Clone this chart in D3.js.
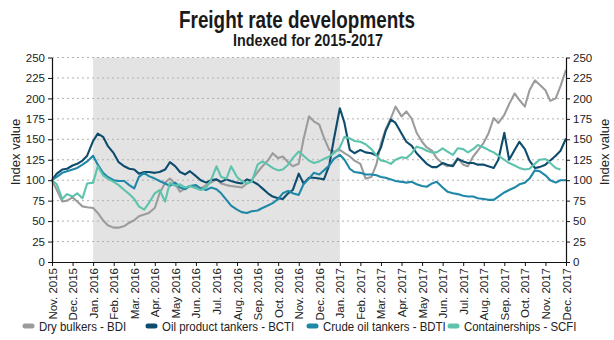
<!DOCTYPE html>
<html><head><meta charset="utf-8">
<script src="https://cdn.jsdelivr.net/npm/d3@7/dist/d3.min.js"></script>
<style>body{margin:0;background:#fff} svg{display:block}</style>
</head><body><svg id="c" width="614" height="340"></svg>
<script>
const monthLabels = ["Nov. 2015","Dec. 2015","Jan. 2016","Feb. 2016","Mar. 2016","Apr. 2016","May 2016","Jun. 2016","Jul. 2016","Aug. 2016","Sep. 2016","Oct. 2016","Nov. 2016","Dec. 2016","Jan. 2017","Feb. 2017","Mar. 2017","Apr. 2017","May 2017","Jun. 2017","Jul. 2017","Aug. 2017","Sep. 2017","Oct. 2017","Nov. 2017","Dec. 2017"];
const yTicks = [0,25,50,75,100,125,150,175,200,225,250];
const dates = [
"2015-11-01","2015-11-08","2015-11-16","2015-11-23","2015-12-01","2015-12-08","2015-12-16","2015-12-23",
"2016-01-01","2016-01-08","2016-01-16","2016-01-23","2016-02-01","2016-02-08","2016-02-16","2016-02-23",
"2016-03-01","2016-03-08","2016-03-16","2016-03-23","2016-04-01","2016-04-08","2016-04-16","2016-04-23",
"2016-05-01","2016-05-08","2016-05-16","2016-05-23","2016-06-01","2016-06-08","2016-06-16","2016-06-23",
"2016-07-01","2016-07-08","2016-07-16","2016-07-23","2016-08-01","2016-08-08","2016-08-16","2016-08-23",
"2016-09-01","2016-09-08","2016-09-16","2016-09-23","2016-10-01","2016-10-08","2016-10-16","2016-10-23",
"2016-11-01","2016-11-08","2016-11-16","2016-11-23","2016-12-01","2016-12-08","2016-12-16","2016-12-23",
"2017-01-01","2017-01-08","2017-01-16","2017-01-23","2017-02-01","2017-02-08","2017-02-16","2017-02-23",
"2017-03-01","2017-03-08","2017-03-16","2017-03-23","2017-04-01","2017-04-08","2017-04-16","2017-04-23",
"2017-05-01","2017-05-08","2017-05-16","2017-05-23","2017-06-01","2017-06-08","2017-06-16","2017-06-23",
"2017-07-01","2017-07-08","2017-07-16","2017-07-23","2017-08-01","2017-08-08","2017-08-16","2017-08-23",
"2017-09-01","2017-09-08","2017-09-16","2017-09-23","2017-10-01","2017-10-08","2017-10-16","2017-10-23",
"2017-11-01","2017-11-08","2017-11-16","2017-11-23","2017-12-01"];
const dryBulkersBDI = [100,88,74,75, 79,74,68,67, 66,60,51,45, 42,42,44,48, 51,56,58,60, 66,84,97,102,
 95,86,90,93, 91,90,94,97, 101,96,94,93, 92,91,96,100, 110,117,124,133, 127,129,122,117,
 120,150,178,172, 168,152,137,135, 137,133,129,124, 120,102,104,120, 145,162,176,190,
 178,184,175,158, 147,140,136,127, 120,117,119,127, 119,117,129,136, 146,157,176,170,
 180,193,206,198, 190,210,222,217, 210,197,200,215, 235];
const oilProductBCTI = [100,108,113,114, 118,120,124,130, 148,157,153,142, 133,122,117,114, 113,108,110,110,
 109,110,113,122, 117,110,107,111, 105,100,97,100, 101,98,101,99, 97,96,101,99, 95,90,84,80,
 78,77,84,88, 108,96,103,103, 102,101,118,150, 188,170,137,133, 137,134,133,130,
 140,160,174,170, 157,147,142,133, 126,120,116,116, 121,119,117,126, 123,121,121,119,
 119,117,115,125, 158,125,137,147, 138,124,115,116, 119,124,130,136, 151];
const crudeBDTI = [100,104,109,111, 113,115,119,123, 130,119,109,104, 100,99,99,94, 90,104,109,105,
 102,99,96,93, 97,91,89,93, 94,90,88,91, 89,84,76,69, 64,61,60,62, 63,66,69,72,
 77,84,87,84, 82,95,102,109, 107,112,118,126, 131,125,114,110, 109,107,107,106,
 104,103,101,99, 98,97,98,95, 93,92,96,98, 91,86,84,83, 81,80,80,78,
 77,76,76,80, 85,88,91,95, 97,102,112,111, 106,100,97,100, 100];
const containershipsSCFI = [100,95,77,83, 80,84,78,96, 97,117,106,102, 98,94,88,83, 77,68,64,72,
 84,88,74,97, 93,95,91,93, 90,88,91,100, 117,104,102,117, 104,99,96,98, 119,123,119,115,
 112,113,119,127, 135,130,124,121, 123,126,129,133, 140,153,151,148, 147,144,138,130,
 124,123,120,125, 128,127,133,141, 139,136,134,134, 139,135,131,139, 138,134,138,143,
 140,137,134,130, 125,121,118,115, 113,114,120,125, 126,121,115,113, null];
const seriesNames = ["Dry bulkers - BDI","Oil product tankers - BCTI","Crude oil tankers - BDTI","Containerships - SCFI"];
const seriesColors = ["#9c9c9c","#0e4c6d","#1f88a8","#5dc3ad"];
const seriesValues = [dryBulkersBDI, oilProductBCTI, crudeBDTI, containershipsSCFI];
const shadeRange = ["Jan. 2016","Jan. 2017"];

const FONT = "'Liberation Sans',Arial,sans-serif";
const svg = d3.select("#c");
const L = 52, R = 566, T = 57.5, B = 262;

function monthIndex(s){
  const d = d3.utcParse("%Y-%m-%d")(s);
  const start = d3.utcMonth.floor(d), next = d3.utcMonth.offset(start,1);
  const idx = (d.getUTCFullYear()-2015)*12 + d.getUTCMonth() - 10;
  return idx + (d - start)/(next - start);
}
const xs = dates.map(monthIndex);

const x = d3.scaleLinear().domain([0, monthLabels.length-1]).range([L, R]);
const y = d3.scaleLinear().domain([0, 250]).range([B, T]);

svg.append("rect")
  .attr("x", x(monthLabels.indexOf(shadeRange[0])))
  .attr("width", x(monthLabels.indexOf(shadeRange[1])) - x(monthLabels.indexOf(shadeRange[0])))
  .attr("y", y(250)).attr("height", y(0)-y(250))
  .attr("fill", "#e3e3e3");

svg.append("g").selectAll("line").data(yTicks.filter(v=>v>0)).join("line")
  .attr("x1", L).attr("x2", R).attr("y1", d=>y(d)).attr("y2", d=>y(d))
  .attr("stroke", "#b0b0b0").attr("stroke-width", 1).attr("stroke-dasharray", "2,3");

const line = d3.line().defined(d=>d[1]!=null).x(d=>x(d[0])).y(d=>y(d[1]));
seriesValues.forEach((vals,i)=>{
  svg.append("path").datum(vals.map((v,j)=>[xs[j], v]))
    .attr("d", line).attr("fill","none").attr("stroke", seriesColors[i])
    .attr("stroke-width", 2.1).attr("stroke-linejoin","round");
});

function styleAxis(g){
  g.selectAll("path.domain").attr("stroke","#111").attr("stroke-width",1.2);
  g.selectAll(".tick line").attr("stroke","#111");
  g.selectAll("text").attr("fill","#222").style("font-family",FONT).style("font-size","11.5px");
}
const gl = svg.append("g").attr("transform",`translate(${L},0)`)
  .call(d3.axisLeft(y).tickValues(yTicks).tickSize(4).tickSizeOuter(0).tickPadding(3));
styleAxis(gl);
const gr = svg.append("g").attr("transform",`translate(${R},0)`)
  .call(d3.axisRight(y).tickValues(yTicks).tickSize(4).tickSizeOuter(0).tickPadding(3));
styleAxis(gr);
const gx = svg.append("g").attr("transform",`translate(0,${B})`)
  .call(d3.axisBottom(x).tickValues(d3.range(monthLabels.length)).tickFormat(i=>monthLabels[i]).tickSize(4).tickSizeOuter(0));
styleAxis(gx);
gx.selectAll("text").attr("transform","rotate(-90)").attr("x",-6).attr("y",0).attr("dy","0.35em")
  .style("text-anchor","end").style("font-size","11.5px");

svg.append("text").attr("transform","translate(15,152) rotate(-90)").attr("text-anchor","middle").attr("dy","0.35em")
  .style("font-family",FONT).style("font-size","13px").attr("fill","#222").text("Index value");
svg.append("text").attr("transform","translate(604,152) rotate(-90)").attr("text-anchor","middle").attr("dy","0.35em")
  .style("font-family",FONT).style("font-size","13px").attr("fill","#222").text("Index value");

svg.append("text").attr("x",297).attr("y",28).attr("text-anchor","middle")
  .attr("textLength",236).attr("lengthAdjust","spacingAndGlyphs")
  .style("font-family",FONT).style("font-weight","bold").style("font-size","24px").attr("fill","#1a1a1a")
  .text("Freight rate developments");
svg.append("text").attr("x",308).attr("y",46).attr("text-anchor","middle")
  .attr("textLength",150).attr("lengthAdjust","spacingAndGlyphs")
  .style("font-family",FONT).style("font-weight","bold").style("font-size","16px").attr("fill","#1a1a1a")
  .text("Indexed for 2015-2017");

const legX = [22, 145, 306, 447];
const lg = svg.append("g").selectAll("g").data(seriesNames).join("g")
  .attr("transform",(d,i)=>`translate(${legX[i]},326)`);
lg.append("line").attr("x1",3).attr("x2",10).attr("y1",0).attr("y2",0)
  .attr("stroke",(d,i)=>seriesColors[i]).attr("stroke-width",5).attr("stroke-linecap","round");
lg.append("text").attr("x",17).attr("y",0).attr("dy","0.35em")
  .style("font-family",FONT).style("font-size","13px").attr("fill","#222").text(d=>d)
  .each(function(){ const w = this.getComputedTextLength(); d3.select(this).attr("textLength", w*0.88).attr("lengthAdjust","spacingAndGlyphs"); });
</script>
</body></html>
